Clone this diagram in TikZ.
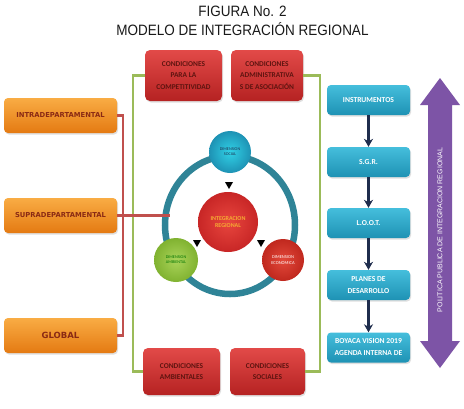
\documentclass[tikz,border=0pt]{standalone}
\usepackage{fontspec}
\setmainfont{Liberation Sans}
\newfontfamily\calib{Carlito}[BoldFont={Carlito Bold}]
\newfontfamily\titlef[FakeStretch=0.9]{Liberation Sans}
\newfontfamily\djv{DejaVu Sans}[BoldFont={DejaVu Sans Bold}]
\usetikzlibrary{arrows.meta,shadows,shapes.geometric}
\definecolor{redtop}{HTML}{E24A48}
\definecolor{redbot}{HTML}{B52222}
\definecolor{redtext}{HTML}{5E1410}
\definecolor{orgtop}{HTML}{F9AC44}
\definecolor{orgbot}{HTML}{E47A12}
\definecolor{orgtext}{HTML}{8A2A14}
\definecolor{tealtop}{HTML}{45BEDC}
\definecolor{tealbot}{HTML}{1E92B4}
\definecolor{greenline}{HTML}{9BBB59}
\definecolor{redline}{HTML}{C0504D}
\definecolor{ringcol}{HTML}{2F8497}
\definecolor{purp}{HTML}{7D54A6}
\definecolor{navy}{HTML}{1F2D4D}
\begin{document}
\begin{tikzpicture}[x=1pt,y=-1pt,
  boxshadow/.style={drop shadow={opacity=0.25,shadow xshift=1pt,shadow yshift=-1.5pt}},
  redbox/.style={rounded corners=5pt,top color=redtop,bottom color=redbot,draw=none,
    text=redtext,align=center,font=\calib\bfseries\fontsize{7.4}{11.5}\selectfont,boxshadow},
  orgbox/.style={rounded corners=4pt,top color=orgtop,bottom color=orgbot,draw=none,
    text=orgtext,align=center,minimum width=113pt,minimum height=35pt,boxshadow},
  tealbox/.style={rounded corners=4pt,top color=tealtop,bottom color=tealbot,draw=none,
    text=white,align=center,minimum width=83pt,minimum height=30pt,
    font=\calib\bfseries\fontsize{7.6}{12}\selectfont,boxshadow},
  flowarrow/.style={navy,line width=2.6pt,-{Stealth[length=8pt,width=9pt]}},
  circ/.style={circle,draw=none,align=center,inner sep=0pt},
  tri/.style={fill=black,draw=none}]
\fill[white] (0,0) rectangle (464,408);
\useasboundingbox (0,0) rectangle (464,408);

% titles
\node[font=\titlef\fontsize{15}{15}\selectfont,text=black!90] (t1) at (242.5,11.5) {FIGURA No. 2};
\node[font=\titlef\fontsize{15}{15}\selectfont,text=black!90] (t2) at (242.5,29.5) {MODELO DE INTEGRACIÓN REGIONAL};

% frame corner points
\coordinate (gL) at (133,76);
\coordinate (gR) at (320,220);

% red condition boxes
\node[redbox,minimum width=77pt,minimum height=51pt] (c1) at (183.5,75.5) {CONDICIONES\\PARA LA\\COMPETITIVIDAD};
\node[redbox,minimum width=72pt,minimum height=51pt] (c2) at (267,75.5) {CONDICIONES\\ADMINISTRATIVA\\S DE ASOCIACIÓN};
\node[redbox,minimum width=77pt,minimum height=47pt] (c3) at (181.5,371.5) {CONDICIONES\\AMBIENTALES};
\node[redbox,minimum width=75pt,minimum height=47pt] (c4) at (267.5,371.5) {CONDICIONES\\SOCIALES};

\draw[greenline,line width=2.5pt] (c1.west) -| (gL) |- (c3.west);
\draw[greenline,line width=2.5pt] (c2.east) -| (gR) |- (c4.east);

% orange scale boxes
\node[orgbox,font=\djv\bfseries\fontsize{6.8}{7}\selectfont] (intra) at (60.5,115.5) {INTRADEPARTAMENTAL};
\node[orgbox,font=\djv\bfseries\fontsize{6.8}{7}\selectfont] (supra) at (60.5,215.5) {SUPRADEPARTAMENTAL};
\node[orgbox,font=\djv\bfseries\fontsize{8.5}{9}\selectfont] (global) at (60.5,335.5) {GLOBAL};

% ring
\node[ellipse,draw=ringcol,line width=6.5pt,minimum width=130pt,minimum height=138pt,inner sep=0pt] (ring) at (230,225) {};

% red connectors
\coordinate (rl) at (170,215.5);
\draw[redline,line width=2.5pt] (intra.east) -- ++(6,0) |- (global.east);
\draw[redline,line width=2.5pt] (supra.east) -- (rl);

% circles
\node[circ,minimum size=42pt,inner color=cyan!30!tealtop,outer color=tealbot,
  text=navy,font=\calib\fontsize{4.2}{5}\selectfont] (soc) at (230,152) {DIMENSION\\SOCIAL};
\node[circ,minimum size=60pt,inner color={rgb,255:red,232;green,70;blue,62},outer color={rgb,255:red,200;green,38;blue,38},
  text={rgb,255:red,245;green,170;blue,50},font=\calib\bfseries\fontsize{6}{7.5}\selectfont] (integ) at (228,222) {INTEGRACION\\REGIONAL};
\node[circ,minimum size=44pt,inner color={rgb,255:red,170;green,212;blue,90},outer color={rgb,255:red,128;green,178;blue,48},
  text=black!55!green,font=\calib\fontsize{4.2}{5}\selectfont] (amb) at (176,260) {DIMENSION\\AMBIENTAL};
\node[circ,minimum size=42pt,inner color={rgb,255:red,226;green,72;blue,58},outer color={rgb,255:red,192;green,40;blue,30},
  text=white,font=\calib\fontsize{4.5}{5.5}\selectfont] (eco) at (283,260) {DIMENSION\\ECONOMICA};

% triangles
\fill[tri] (225,182) -- (233,182) -- (229,189) -- cycle;
\fill[tri] (193,240) -- (201,240) -- (197,247) -- cycle;
\fill[tri] (257,240) -- (265,240) -- (261,247) -- cycle;

% teal flow
\node[tealbox] (ins) at (368.5,100) {INSTRUMENTOS};
\node[tealbox] (sgr) at (368.5,162) {S.G.R.};
\node[tealbox] (loot) at (368.5,223) {L.O.O.T.};
\node[tealbox] (plan) at (368.5,285) {PLANES DE\\DESARROLLO};
\node[tealbox] (boy) at (368.5,347.5) {BOYACA VISION 2019\\AGENDA INTERNA DE};
\draw[flowarrow] (ins.south) -- (sgr.north);
\draw[flowarrow] (sgr.south) -- (loot.north);
\draw[flowarrow] (loot.south) -- (plan.north);
\draw[flowarrow] (plan.south) -- (boy.north);

% purple double arrow
\fill[purp] (440,78) -- (460,105) -- (452,105) -- (452,341) -- (460,341) -- (440,368)
  -- (420,341) -- (428,341) -- (428,105) -- (420,105) -- cycle;
\node[rotate=90,text=white,font=\fontsize{7}{8}\selectfont] (pol) at (440,230) {POLITICA PUBLICA DE INTEGRACION REGIONAL};
\end{tikzpicture}
\end{document}
